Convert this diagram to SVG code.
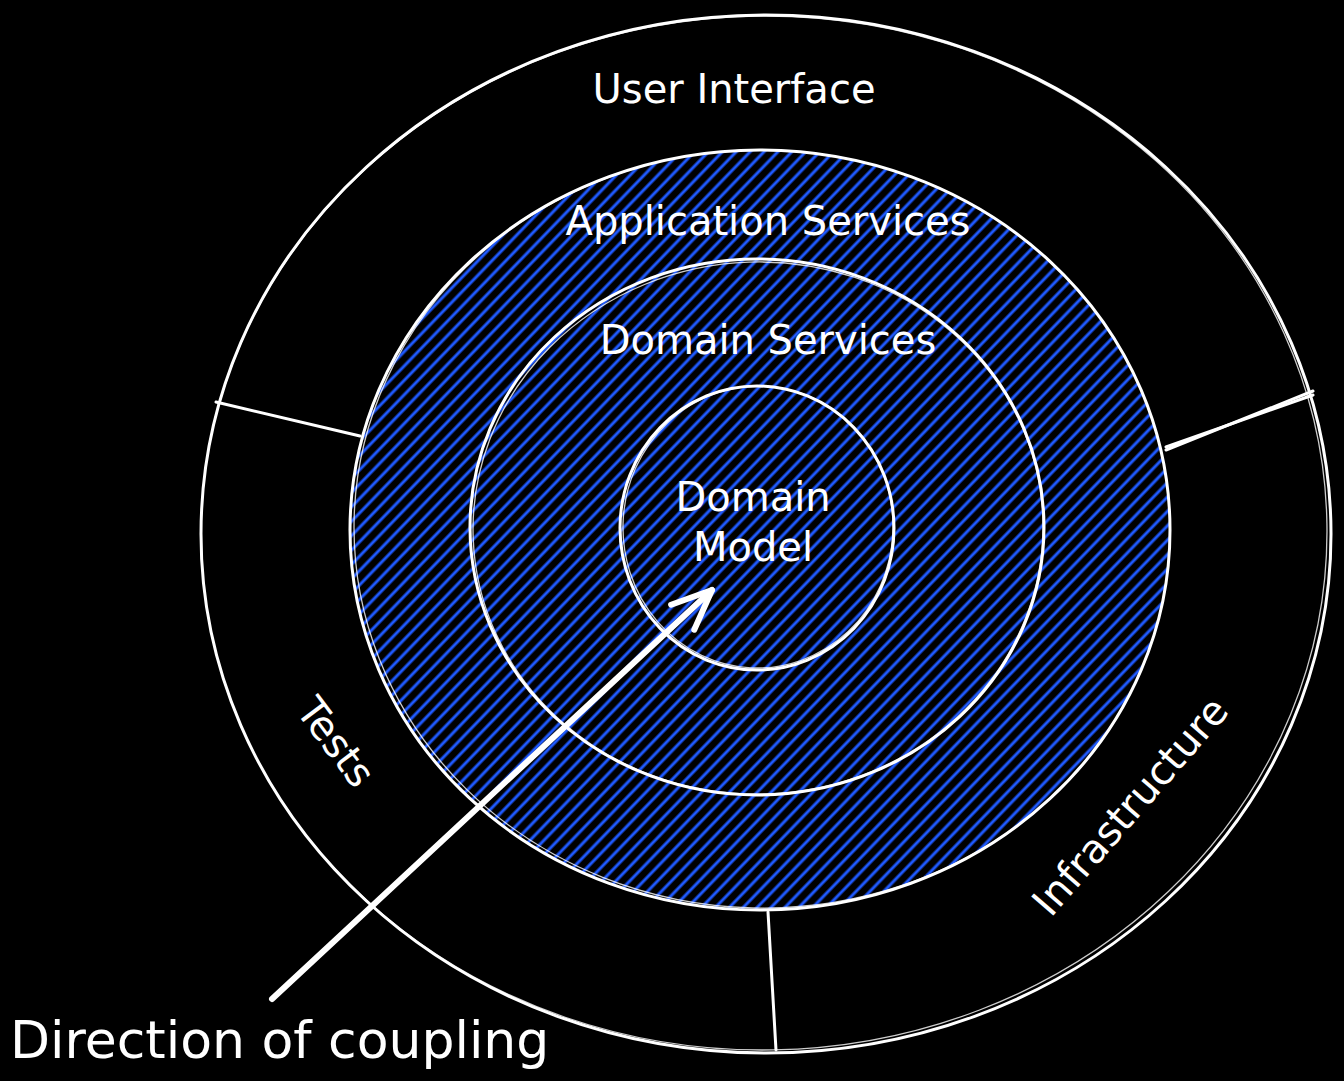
<svg xmlns="http://www.w3.org/2000/svg" width="1344" height="1081" viewBox="0 0 1344 1081">
  <defs>
    <pattern id="hatch" width="10" height="10" patternUnits="userSpaceOnUse" patternTransform="rotate(44)">
      <rect width="10" height="10" fill="#000"/>
      <rect x="3.5" y="0" width="3" height="10" fill="#1f5aff"/>
    </pattern>
    <marker id="chev" markerUnits="userSpaceOnUse" markerWidth="60" markerHeight="60" refX="0" refY="0" viewBox="-50 -30 60 60" orient="auto" overflow="visible">
      <path d="M-40,-17 L0,0 L-40,17" fill="none" stroke="#fff" stroke-width="6" stroke-linecap="round" stroke-linejoin="round"/>
    </marker>
    <style>
      .ring { fill: none; stroke: #fff; stroke-width: 3; }
      .ring2 { fill: none; stroke: #fff; stroke-width: 1.3; opacity: 0.8; }
      .lbl { fill: #fff; font-family: "DejaVu Sans", "Liberation Sans", sans-serif; font-size: 40px; text-anchor: middle; }
      .conn { stroke: #fff; stroke-width: 3; fill: none; stroke-linecap: round; }
    </style>
  </defs>
  <rect width="1344" height="1081" fill="#000"/>

  <g id="user-interface">
    <ellipse class="ring" cx="766" cy="534" rx="565" ry="519"/>
    <ellipse class="ring2" cx="764" cy="533" rx="563" ry="517" transform="rotate(-1 764 533)"/>
    <text class="lbl" x="734" y="103">User Interface</text>
  </g>

  <g id="tests">
    <text class="lbl" transform="translate(336 742) rotate(53)" y="14">Tests</text>
  </g>

  <g id="infrastructure">
    <text class="lbl" transform="translate(1130 806) rotate(-49)" y="14">Infrastructure</text>
  </g>

  <g id="application-services">
    <ellipse cx="760" cy="530" rx="410" ry="380" fill="url(#hatch)" stroke="#fff" stroke-width="3"/>
    <ellipse class="ring2" cx="762" cy="529" rx="408" ry="379" transform="rotate(1.5 762 529)"/>
    <text class="lbl" x="768" y="235">Application Services</text>
  </g>

  <g id="domain-services">
    <ellipse class="ring" cx="757" cy="527" rx="287" ry="268"/>
    <ellipse class="ring2" cx="758" cy="528" rx="285" ry="266" transform="rotate(-2 758 528)"/>
    <text class="lbl" x="768" y="354">Domain Services</text>
  </g>

  <g id="domain-model">
    <ellipse class="ring" cx="757" cy="528" rx="137" ry="142"/>
    <ellipse class="ring2" cx="758" cy="527" rx="135" ry="141" transform="rotate(3 758 527)"/>
    <text class="lbl" x="753" y="511">Domain</text>
    <text class="lbl" x="753" y="561">Model</text>
  </g>

  <g id="connectors">
    <line class="conn" x1="216" y1="402" x2="360" y2="436"/>
    <line class="conn" x1="1166" y1="450" x2="1313" y2="391"/>
    <line class="conn" x1="1166" y1="447" x2="1313" y2="395" stroke-width="1.2"/>
    <line class="conn" x1="768" y1="912" x2="776" y2="1050"/>
    <line x1="272" y1="999" x2="712" y2="590" stroke="#fff" stroke-width="6" stroke-linecap="round" marker-end="url(#chev)"/>
  </g>

  <text x="10" y="1058" fill="#fff" font-family="DejaVu Sans, Liberation Sans, sans-serif" font-size="52">Direction of coupling</text>
</svg>
